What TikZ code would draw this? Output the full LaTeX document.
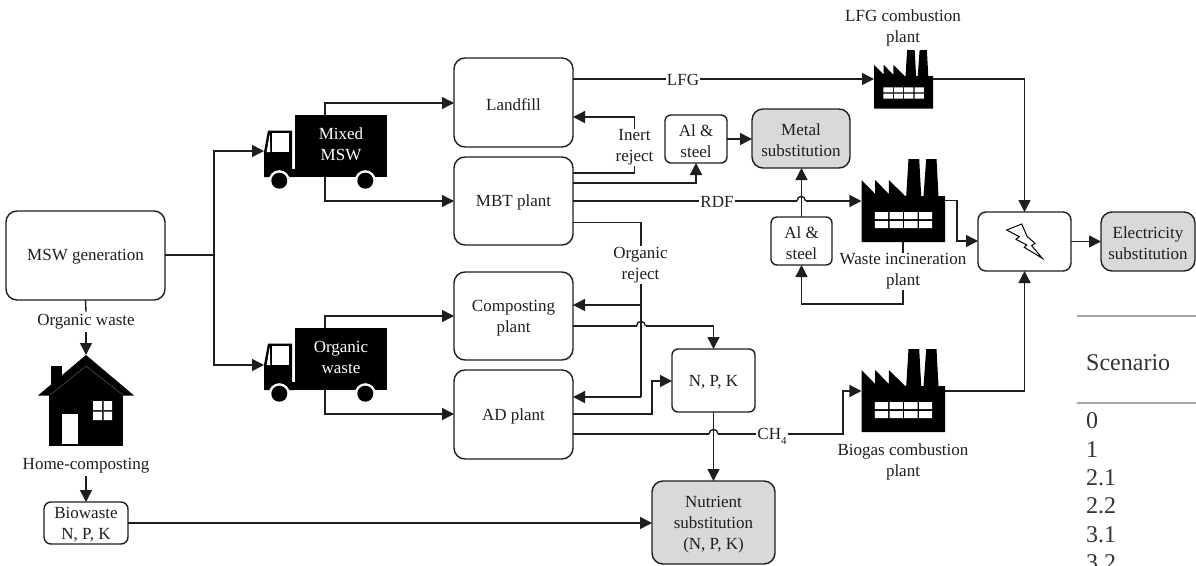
\documentclass[tikz,border=0pt]{standalone}
\usepackage{fontspec}
\setmainfont{Liberation Serif}
\usetikzlibrary{arrows.meta}
\definecolor{ink}{HTML}{1E1E1E}
\definecolor{subst}{HTML}{D9D9D9}
\tikzset{
  every node/.style={text=ink,font=\fontsize{17}{21}\selectfont,align=center},
  bigbox/.style={draw=ink,line width=1.4pt,rounded corners=11pt,fill=white,inner sep=0pt,outer sep=0pt},
  smallbox/.style={draw=ink,line width=1.4pt,rounded corners=6pt,fill=white,inner sep=0pt,outer sep=0pt},
  subbox/.style={bigbox,fill=subst},
  ghost/.style={inner sep=0pt,outer sep=0pt},
  lab/.style={inner sep=1pt,outer sep=0pt},
  says/.style={label={[yshift=-1.7pt,inner sep=0pt]center:{#1}}},
  flow/.style={draw=ink,line width=1.4pt},
  arr/.style={flow,-{Triangle[length=12pt,width=12pt]}},
  rulegrey/.style={draw=black!35,line width=1.8pt},
  tabtext/.style={text=black!80,font=\fontsize{24}{28}\selectfont,anchor=base west,inner sep=0pt},
}
\newcommand{\factoryicon}[3]{%
  \begin{scope}[shift={(#1,#2)},scale=#3]
    \fill[black] (0,83) -- (0,21) -- (13.7,35) -- (13.7,21) -- (27.3,35) -- (27.3,21) -- (43.7,37)
      -- (44.7,37) -- (47,0) -- (57.7,0) -- (59.7,37) -- (62,37) -- (64.7,0) -- (75,0) -- (77,37)
      -- (83.7,37) -- (83.7,83) -- cycle;
    \fill[white] (13.3,53) rectangle (26.7,60) (28,53) rectangle (41.3,60) (42.7,53) rectangle (56,60) (57.7,53) rectangle (70.7,60)
      (13.3,62) rectangle (26.7,69) (28,62) rectangle (41.3,69) (42.7,62) rectangle (56,69) (57.7,62) rectangle (70.7,69);
  \end{scope}}
\newcommand{\truckicon}[1]{%
  \begin{scope}[shift={(0,#1)}]
    \fill[black] (295,115) rectangle (387,177);
    \fill[black] (264,177) -- (264,152) -- (268,130.5) -- (292,130.5) -- (292,169) -- (295,169) -- (295,177) -- cycle;
    \fill[white] (272,133) rectangle (289,152);
    \fill[white] (269.7,134) -- (270.3,152) -- (266.7,152) -- cycle;
    \fill[white] (279.3,180.7) circle[radius=10.5pt] (365.3,180.7) circle[radius=10.5pt];
    \fill[black] (279.3,180.7) circle[radius=8pt] (365.3,180.7) circle[radius=8pt];
  \end{scope}}
\begin{document}
\begin{tikzpicture}[x=1pt,y=-1pt]
\useasboundingbox (0,0) rectangle (1196,565);
\begin{scope}
\clip (0,0) rectangle (1196,565);
% table fragment
\draw[rulegrey] (1077,316) -- (1196,316);
\draw[rulegrey] (1077,403) -- (1196,403);
\node[tabtext] (tscen) at (1086,370) {Scenario};
\node[tabtext] (t0) at (1086,428) {0};
\node[tabtext] (t1) at (1086,457) {1};
\node[tabtext] (t21) at (1086,485) {2.1};
\node[tabtext] (t22) at (1086,513) {2.2};
\node[tabtext] (t31) at (1086,542) {3.1};
\node[tabtext] (t32) at (1086,570) {3.2};
\end{scope}
% boxes
\node[bigbox,minimum width=159pt,minimum height=89pt,says={MSW generation}] (gen) at (85.5,255.5) {};
\node[bigbox,minimum width=119pt,minimum height=89pt,says={Landfill}] (landfill) at (513.5,102.5) {};
\node[bigbox,minimum width=119pt,minimum height=88pt,says={MBT plant}] (mbt) at (513.5,201) {};
\node[bigbox,minimum width=119pt,minimum height=88pt,says={Composting\\plant}] (comp) at (513.5,316) {};
\node[bigbox,minimum width=119pt,minimum height=89pt,says={AD plant}] (ad) at (513.5,414.5) {};
\node[smallbox,minimum width=83pt,minimum height=63pt,says={N, P, K}] (npk) at (713.5,380.5) {};
\node[smallbox,minimum width=62pt,minimum height=48pt,says={Al \&\\steel}] (al1) at (696,139) {};
\node[smallbox,minimum width=61pt,minimum height=48pt,says={Al \&\\steel}] (al2) at (801.5,241) {};
\node[subbox,minimum width=98pt,minimum height=59pt,says={Metal\\substitution}] (metal) at (801,138.5) {};
\node[smallbox,rounded corners=8pt,minimum width=93pt,minimum height=59pt] (power) at (1024.5,241.5) {};
\node[subbox,minimum width=94pt,minimum height=59pt,says={Electricity\\substitution}] (elec) at (1148,241.5) {};
\node[subbox,minimum width=123pt,minimum height=83pt,says={Nutrient\\substitution\\(N, P, K)}] (nutr) at (713.5,522.5) {};
\node[smallbox,rounded corners=7pt,minimum width=84pt,minimum height=42pt,says={Biowaste\\N, P, K}] (bio) at (86,523) {};
% bolt
\draw[draw=black,line width=1pt,fill=white,line join=miter] (1006.7,230) -- (1021.7,224) -- (1027.3,236.7) -- (1035,243.3) -- (1031.7,245.7) -- (1042.3,258.3) -- (1024.3,247.3) -- (1026.7,245) -- (1016,239.3) -- (1019.3,236.7) -- cycle;
% icons
\truckicon{0}
\truckicon{213}
\factoryicon{874}{50}{0.705}
\factoryicon{861.5}{159}{1}
\factoryicon{861.5}{349}{1}
\node[ghost,minimum width=123pt,minimum height=62pt] (truckAfull) at (325.5,146) {};
\node[inner sep=0pt] (truckAtext) at (341,144) {\color{white}Mixed\\\color{white}MSW};
\node[ghost,minimum width=123pt,minimum height=62pt] (truckBfull) at (325.5,359) {};
\node[inner sep=0pt] (truckBtext) at (341,357) {\color{white}Organic\\\color{white}waste};
\node[ghost,minimum width=59pt,minimum height=58pt] (fac1) at (903.5,79) {};
\node[ghost,minimum width=83.7pt,minimum height=83pt] (fac2) at (903.3,200.5) {};
\node[ghost,minimum width=83.7pt,minimum height=83pt] (fac3) at (903.3,390.5) {};
% house
\fill[black] (51,395) rectangle (62,366);
\fill[black] (38,395.5) -- (86,355) -- (134,395.5) -- cycle;
\fill[black] (49,394) rectangle (123,446);
\draw[black!55,line width=.35pt] (50,395) -- (86,366) -- (123,395);
\fill[white] (62,414) rectangle (78,444);
\fill[white] (93,401) rectangle (102,410) (103.5,401) rectangle (112,410) (93,411.5) rectangle (102,420) (103.5,411.5) rectangle (112,420);
\node[ghost,minimum width=96pt,minimum height=91pt] (house) at (86,400.5) {};
% labels
\node[lab,inner sep=3pt] (lorg) at (86,322) {Organic waste};
\node[lab,inner sep=3pt] (lhome) at (86,466) {Home-composting};
\node[lab] (llfg) at (683,80) {LFG};
\node[lab] (lrdf) at (717,202) {RDF};
\node[lab] (lch) at (772,436) {CH\raisebox{-.3em}{\fontsize{11}{11}\selectfont 4}};
\node[lab,inner sep=1pt] (linert) at (634.5,147.5) {Inert\\reject};
\node[lab,inner sep=1pt] (lorej) at (640.5,265) {Organic\\reject};
\node[lab,inner sep=1pt] (lfac1) at (903,27.5) {LFG combustion\\plant};
\node[lab,inner sep=1pt] (lfac2) at (903,271.5) {Waste incineration\\plant};
\node[lab,inner sep=1pt] (lfac3) at (903,461.5) {Biogas combustion\\plant};
% connectors
\coordinate (split) at (214,255);
\draw[flow] (gen.east |- split) -- (split);
\draw[arr] (split) |- (truckAfull.west |- 0,151);
\draw[arr] (split) |- (truckBfull.west |- 0,365);
\draw[arr] (truckAfull.north -| 325,0) |- (landfill.west |- 0,103);
\draw[arr] (truckAfull.south -| 325,0) |- (mbt.west |- 0,201);
\draw[arr] (truckBfull.north -| 325,0) |- (comp.west |- 0,316);
\draw[arr] (truckBfull.south -| 325,0) |- (ad.west |- 0,414);
\draw[flow] (gen.south) -- (lorg.north);
\draw[arr] (lorg.south) -- (house.north);
\draw[arr] (lhome.south) -- (bio.north);
\draw[arr] (bio.east) -- (nutr.west |- bio.east);
\draw[flow] (landfill.east |- 0,79) -- (llfg.west |- 0,79);
\draw[arr] (llfg.east |- 0,79) -- (fac1.west |- 0,79);
\draw[flow] (mbt.east |- 0,173) -| (linert.south);
\draw[arr] (linert.north) |- (landfill.east |- 0,117);
\draw[arr] (mbt.east |- 0,183) -| (al1.south);
\draw[arr] (al1.east) -- (metal.west |- al1.east);
\draw[flow] (mbt.east |- 0,201) -- (lrdf.west |- 0,201);
\draw[flow] (lrdf.east |- 0,201) -- (797,201);
\draw[flow] (797,201) .. controls (797,195) and (805.5,195) .. (805.5,201);
\draw[arr] (805.5,201) -- (fac2.west |- 0,201);
\draw[arr] (al2.north) -- (metal.south -| al2.north);
\draw[flow] (mbt.east |- 0,222.5) -| (lorej.north -| 641,0);
\draw[flow] (lorej.south -| 641,0) -- (641,397);
\coordinate (orejtop) at (641,305);
\draw[arr] (orejtop) -- (comp.east |- orejtop);
\draw[arr] (641,397) -- (ad.east |- 0,397);
\draw[flow] (comp.east |- 0,326) -- (636.5,326);
\draw[flow] (636.5,326) .. controls (636.5,320) and (645.5,320) .. (645.5,326);
\draw[arr] (645.5,326) -- (713.5,326) -- (npk.north);
\draw[arr] (ad.east |- 0,414) -- (652,414) -- (652,381) -- (npk.west |- 0,381);
\draw[flow] (ad.east |- 0,434) -- (709,434);
\draw[flow] (709,434) .. controls (709,428) and (718,428) .. (718,434);
\draw[flow] (718,434) -- (lch.west |- 0,434);
\draw[arr] (lch.east |- 0,434) -- (843,434) -- (843,391) -- (fac3.west |- 0,391);
\draw[arr] (npk.south) -- (nutr.north -| npk.south);
\draw[arr] (fac1.east |- 0,79) -- (1024.5,79) -- (power.north);
\draw[arr] (fac3.east |- 0,391) -- (1024.5,391) -- (power.south);
\draw[arr] (fac2.east |- 0,200.5) -- (957,200.5) -- (957,241) -- (power.west |- 0,241);
\draw[arr] (power.east) -- (elec.west |- power.east);
\draw[flow] (fac2.south -| lfac2.north) -- (lfac2.north);
\draw[arr] (lfac2.south) -- (903,304) -- (801.5,304) -- (al2.south);
\end{tikzpicture}
\end{document}
